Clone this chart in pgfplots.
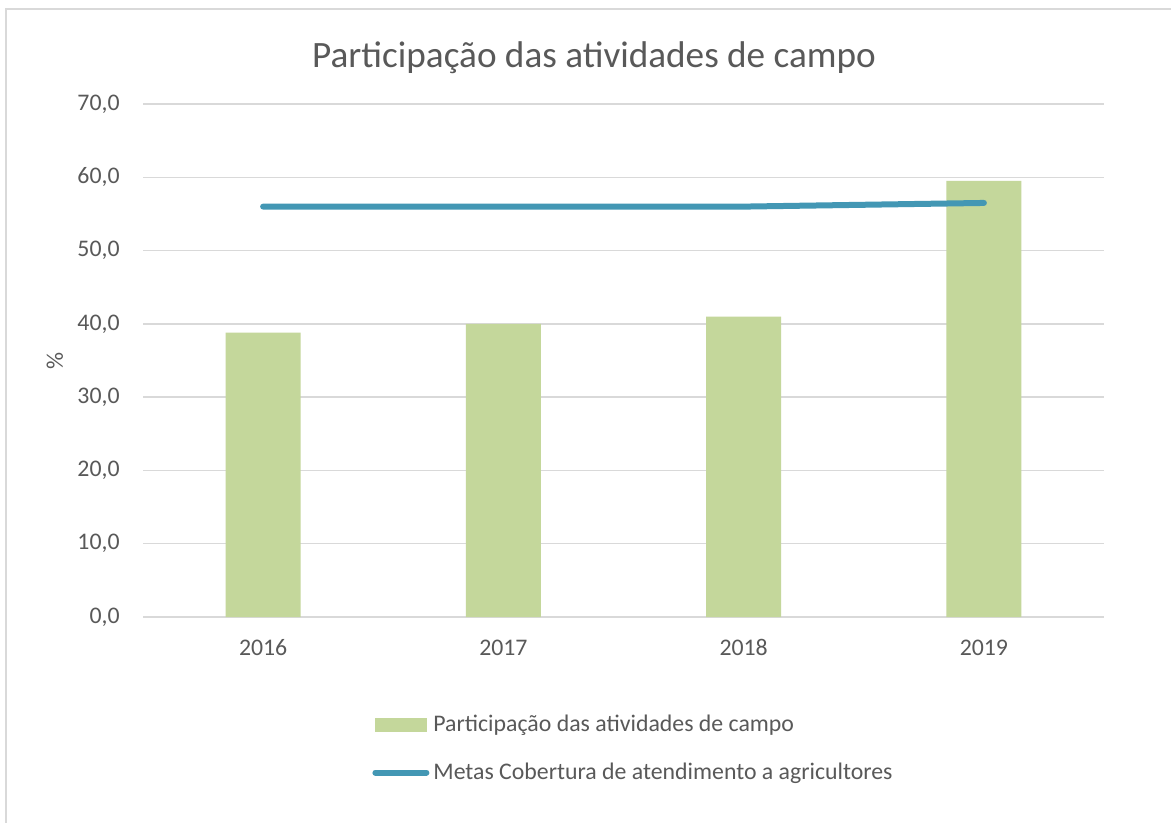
\documentclass[border=0pt]{standalone}
\usepackage{pgfplots}
\pgfplotsset{compat=1.18}
\usepackage{fontspec}
\setmainfont{Carlito}
\definecolor{barc}{HTML}{C4D79B}
\definecolor{linec}{HTML}{4397B4}
\definecolor{gridc}{HTML}{D9D9D9}
\definecolor{txt}{HTML}{595959}
\begin{document}
\begin{tikzpicture}
\useasboundingbox (0,0) rectangle (585.5pt,-411.5pt);
\fill[white] (0,0) rectangle (585.5pt,-411.5pt);
\draw[gridc, line width=0.9pt] (3pt,-420pt) -- (3pt,-4.5pt) -- (590pt,-4.5pt);
\node[txt, font=\fontsize{18.6}{22}\selectfont] at (297pt,-29pt) {Participação das atividades de campo};
\begin{axis}[
  at={(71.5pt,-308.5pt)}, anchor=south west,
  scale only axis, width=480.5pt, height=256.5pt,
  xmin=-0.5, xmax=3.5, ymin=0, ymax=70,
  xtick={0,1,2,3}, xticklabels={2016,2017,2018,2019},
  ytick={0,10,...,70},
  /pgf/number format/assume math mode=true,
  y tick label style={/pgf/number format/.cd, fixed, fixed zerofill, precision=1, use comma, /tikz/.cd},
  axis line style={draw=none},
  major tick length=0pt,
  ymajorgrids,
  grid style={gridc, line width=0.75pt},
  tick label style={txt, font=\fontsize{11.9}{14}\selectfont},
  y tick label style={anchor=east, inner sep=0pt, xshift=-11.5pt},
  x tick label style={anchor=base, inner sep=0pt, yshift=-19pt},
  ylabel={\%},
  ylabel style={at={(axis description cs:-0.0916,0.5)}, anchor=center, txt, font=\fontsize{11.9}{14}\selectfont},
  clip=false,
  legend cell align=left,
  legend style={at={(axis description cs:0.2383,-0.183)}, anchor=north west, draw=none, fill=none,
    font=\fontsize{11.9}{14}\selectfont, text=txt, inner sep=0pt, row sep=10pt},
]
\addplot[ybar, bar width=37.5pt, fill=barc, draw=none,
  legend image code/.code={\fill[barc] (0pt,-3.5pt) rectangle (26pt,3.5pt);}]
  coordinates {(0,38.8) (1,40.0) (2,41.0) (3,59.5)};
\addlegendentry{Participação das atividades de campo}
\addplot[linec, line width=3pt, line cap=round, mark=none,
  legend image code/.code={\draw[linec, line width=3pt, line cap=round] (0pt,0pt) -- (25.5pt,0pt);}]
  coordinates {(0,56.0) (1,56.0) (2,56.0) (3,56.5)};
\addlegendentry{Metas Cobertura de atendimento a agricultores}
\end{axis}
\end{tikzpicture}
\end{document}
